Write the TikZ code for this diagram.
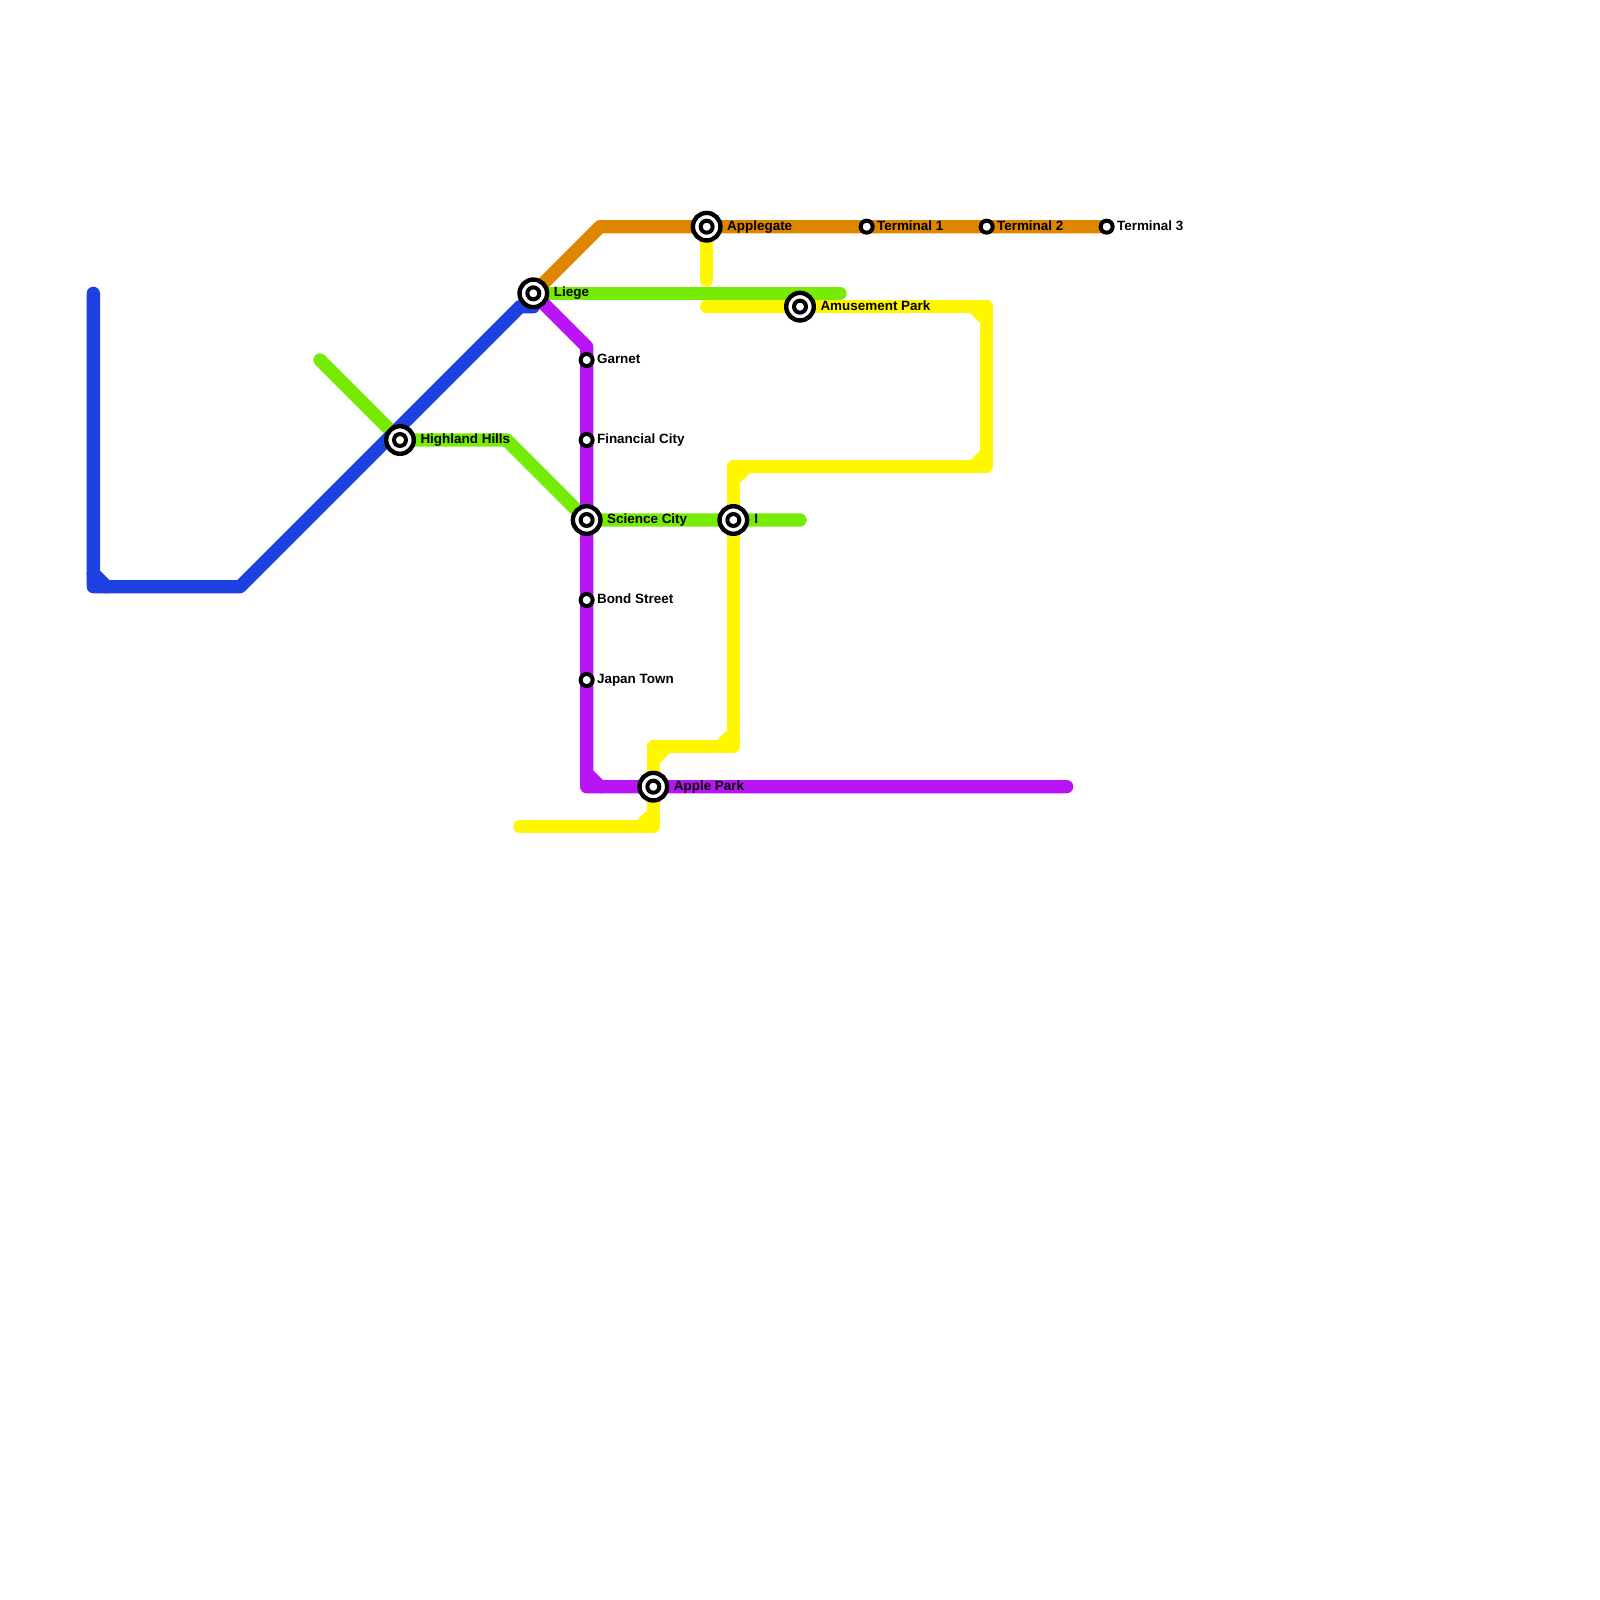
\documentclass[tikz,border=0pt]{standalone}
\usepackage{fontspec}
\setmainfont{Liberation Sans}
\usepackage{xcolor}
\usepackage{tikz}
\usetikzlibrary{
	               	backgrounds
					}
\definecolor{lineblue}{RGB}{29,64,224}
\definecolor{lineorange}{RGB}{223,134,0}
\definecolor{linegreen}{RGB}{118,236,6}
\definecolor{linepurple}{RGB}{185,20,243}
\definecolor{lineyellow}{RGB}{255,247,0}
\tikzset{
	metro/.style={line width=1mm,line cap=round,line join=round},
	stop/.style={circle,draw=black,fill=white,line width=0.3mm,minimum size=0.9mm,inner sep=0pt},
	hub/.style={stop,line width=0.33mm,minimum size=2.07mm,label={[stop]center:}},
	stoptext/.style={font=\fontsize{2.87pt}{3.5pt}\selectfont\bfseries,inner sep=0pt,text=black,text height=2.1pt,text depth=0.6pt},
	stoplabel/.style={label={[stoptext,label distance=0.11mm]right:#1}},
	hublabel/.style={label={[stoptext,label distance=0.27mm]right:#1}}
}
\begin{document}
\begin{tikzpicture}[x=0.1cm,y=-0.1cm]
	\useasboundingbox (0,0) rectangle (120,120);
	\node[hub,hublabel=Liege] (liege) at (40,22) {};
	\node[hub,hublabel=Highland Hills] (highland) at (30,33) {};
	\node[hub,hublabel=Science City] (science) at (44,39) {};
	\node[hub,hublabel=I] (ii) at (55,39) {};
	\node[hub,hublabel=Apple Park] (apple) at (49,59) {};
	\node[hub,hublabel=Applegate] (applegate) at (53,17) {};
	\node[hub,hublabel=Amusement Park] (amusement) at (60,23) {};
	\node[stop,stoplabel=Garnet] (garnet) at (44,27) {};
	\node[stop,stoplabel=Financial City] (financial) at (44,33) {};
	\node[stop,stoplabel=Bond Street] (bond) at (44,45) {};
	\node[stop,stoplabel=Japan Town] (japan) at (44,51) {};
	\node[stop,stoplabel=Terminal 1] (termone) at (65,17) {};
	\node[stop,stoplabel=Terminal 2] (termtwo) at (74,17) {};
	\node[stop,stoplabel=Terminal 3] (termthree) at (83,17) {};

	\coordinate (blueA) at (7,22);
	\coordinate (blueB) at (40,23);
	\coordinate (greenA) at (63,22);
	\coordinate (greenB) at (24,27);
	\coordinate (greenC) at (60,39);
	\coordinate (purpleA) at (80,59);
	\coordinate (yellowA) at (53,21);
	\coordinate (yellowB) at (53,23);
	\coordinate (yellowC) at (39,62);

	\begin{scope}[on background layer]
	\draw[metro,lineorange] (liege.center) -- (45,17) -- (termthree.center);
	\draw[metro,linegreen] (liege.center) -- (greenA);
	\draw[metro,linegreen] (greenB) -- (highland.center) -- (38,33) -- (science.center) -- (greenC);
	\draw[metro,linepurple] (liege.center) -- (44,26) -- (44,59) -- (purpleA);
	\draw[metro,linepurple] (44,58) -- (45,59);
	\draw[metro,lineblue] (blueA) -- (7,44) -- (18,44) -- (39,23) -- (blueB);
	\draw[metro,lineblue] (7,43) -- (8,44);
	\draw[metro,lineyellow] (applegate.center) -- (yellowA);
	\draw[metro,lineyellow] (yellowB) -- (74,23) -- (74,35) -- (55,35) -- (55,56) -- (49,56) -- (49,62) -- (yellowC);
	\draw[metro,lineyellow] (73,23) -- (74,24);
	\draw[metro,lineyellow] (74,34) -- (73,35);
	\draw[metro,lineyellow] (55,36) -- (56,35);
	\draw[metro,lineyellow] (55,55) -- (54,56);
	\draw[metro,lineyellow] (49,57) -- (50,56);
	\draw[metro,lineyellow] (49,61) -- (48,62);
	\end{scope}
\end{tikzpicture}
\end{document}
